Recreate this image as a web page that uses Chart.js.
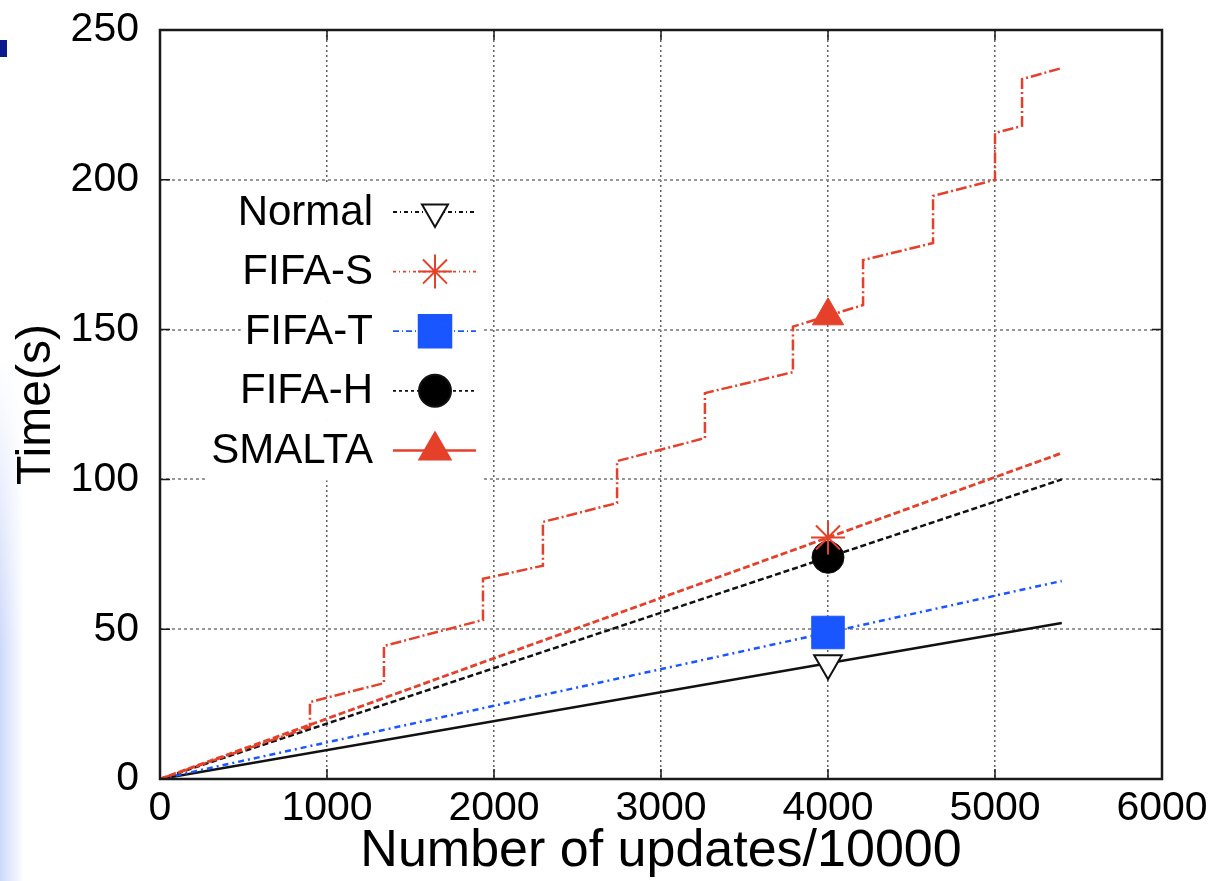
<!DOCTYPE html>
<html>
<head>
<meta charset="utf-8">
<script src="https://cdn.jsdelivr.net/npm/chart.js@4.4.1/dist/chart.umd.min.js"></script>
<style>
  html, body { margin: 0; padding: 0; background: #fff; }
  #wrap { position: relative; width: 1222px; height: 881px; overflow: hidden; }
  #chart { position: absolute; left: 0; top: 0; }
  .edge {
    position: absolute; left: 0; top: 360px; width: 24px; height: 521px;
    background: linear-gradient(to right, rgb(206, 217, 250), rgba(255, 255, 255, 0));
    -webkit-mask-image: linear-gradient(to bottom, transparent, #000 55%);
  }
  .mark { position: absolute; left: 0; top: 40px; width: 7px; height: 17px; background: #0b1b8f; }
</style>
</head>
<body>
<div id="wrap">
  <div class="edge"></div>
  <div class="mark"></div>
  <canvas id="chart" width="1222" height="881"></canvas>
</div>
<script>
// values
const seriesNames = ['Normal', 'FIFA-S', 'FIFA-T', 'FIFA-H', 'SMALTA'];

const lineX = [0, 4000, 5400];
const normalY = [0, 38.6, 52.1];
const fifaSY = [0, 80.6, 108.8];
const fifaTY = [0, 48.9, 66.1];
const fifaHY = [0, 74.0, 100.0];

// SMALTA is a staircase: repeated x means a vertical jump
const smaltaX = [0, 898, 898, 1341, 1341, 1934, 1934, 2293, 2293, 2737, 2737,
    3263, 3263, 3790, 3790, 4000, 4210, 4210, 4629, 4629, 5000, 5000, 5162, 5162, 5400];
const smaltaY = [0, 17.4, 25.7, 32.0, 44.4, 53.1, 66.8, 71.2, 85.8, 92.1, 106.1,
    113.8, 128.8, 135.8, 151.0, 154.6, 158.2, 173.2, 178.9, 194.6, 200.0, 215.6, 218.0, 233.6, 237.3];

const markerX = 4000;
const xTicks = [0, 1000, 2000, 3000, 4000, 5000, 6000];
const yTicks = [0, 50, 100, 150, 200, 250];

const RED = '#e4402a';
const BLUE = '#1a56ff';
const FONT = "'Liberation Sans', Arial, Helvetica, sans-serif";

function pts(xs, ys) {
    return xs.map((x, i) => ({ x: x, y: ys[i] }));
}

function markerOnly(size) {
    return ctx => (ctx.raw && ctx.raw.x === markerX) ? size : 0;
}

// how each entry looks in the key (line dash + marker)
const keyStyle = [
    { color: '#111', dash: [4, 3, 1, 3], width: 1.8, point: 'triangle', rot: 180, r: 15, fill: '#fff' },
    { color: RED, dash: [3, 3, 1, 3], width: 1.8, point: 'star', rot: 0, r: 17, fill: RED },
    { color: BLUE, dash: [6, 3, 1, 3], width: 1.8, point: 'rect', rot: 0, r: 23, fill: BLUE },
    { color: '#111', dash: [3, 3], width: 1.8, point: 'circle', rot: 0, r: 16, fill: '#000' },
    { color: RED, dash: [], width: 2.5, point: 'triangle', rot: 0, r: 18, fill: RED }
];

const keyPlugin = {
    id: 'gnuKey',
    afterDatasetsDraw(chart) {
        const ctx = chart.ctx;
        const a = chart.chartArea;
        const textRight = a.left + 213;
        const lineL = a.left + 233, lineR = a.left + 316, mk = a.left + 275;
        ctx.save();
        ctx.font = '42px ' + FONT;
        ctx.textAlign = 'right';
        ctx.textBaseline = 'middle';
        seriesNames.forEach((name, i) => {
            const y = a.top + 182 + i * 59.6;
            const s = keyStyle[i];
            const w = ctx.measureText(name).width;
            ctx.fillStyle = '#fff';
            ctx.fillRect(textRight - w - 4, y - 30, lineR - textRight + w + 10, 60);
            ctx.fillStyle = '#000';
            ctx.fillText(name, textRight, y + 1);
            ctx.beginPath();
            ctx.setLineDash(s.dash);
            ctx.strokeStyle = s.color;
            ctx.lineWidth = s.width;
            ctx.moveTo(lineL, y);
            ctx.lineTo(lineR, y);
            ctx.stroke();
            ctx.setLineDash([]);
            ctx.fillStyle = s.fill;
            ctx.strokeStyle = s.color;
            ctx.lineWidth = 2;
            Chart.helpers.drawPoint(ctx, {
                pointStyle: s.point, rotation: s.rot, radius: s.r, borderWidth: 2
            }, mk, y);
        });
        ctx.restore();
    }
};

// gnuplot style frame with inward ticks on all sides
const framePlugin = {
    id: 'frame',
    afterDatasetsDraw(chart) {
        const ctx = chart.ctx;
        const a = chart.chartArea;
        const xs = chart.scales.x, ys = chart.scales.y;
        ctx.save();
        ctx.strokeStyle = '#1a1a1a';
        ctx.lineWidth = 1.5;
        ctx.beginPath();
        xTicks.forEach(v => {
            const p = xs.getPixelForValue(v);
            ctx.moveTo(p, a.bottom); ctx.lineTo(p, a.bottom - 10);
            ctx.moveTo(p, a.top); ctx.lineTo(p, a.top + 10);
        });
        yTicks.forEach(v => {
            const p = ys.getPixelForValue(v);
            ctx.moveTo(a.left, p); ctx.lineTo(a.left + 10, p);
            ctx.moveTo(a.right, p); ctx.lineTo(a.right - 10, p);
        });
        ctx.stroke();
        ctx.lineWidth = 2.5;
        ctx.strokeRect(a.left, a.top, a.right - a.left, a.bottom - a.top);
        ctx.restore();
    }
};

Chart.defaults.color = '#000';
Chart.defaults.font.family = FONT;

new Chart(document.getElementById('chart'), {
    type: 'line',
    data: {
        datasets: [
            {
                label: 'SMALTA',
                data: pts(smaltaX, smaltaY),
                borderColor: RED, backgroundColor: RED,
                borderWidth: 2.5, borderDash: [11, 3, 2, 3],
                pointStyle: 'triangle', pointRadius: markerOnly(18),
                pointBorderWidth: 1
            },
            {
                label: 'FIFA-S',
                data: pts(lineX, fifaSY),
                borderColor: RED, backgroundColor: RED,
                borderWidth: 2.8, borderDash: [7, 3],
                pointStyle: 'star', pointRadius: markerOnly(17),
                pointBorderWidth: 2
            },
            {
                label: 'FIFA-H',
                data: pts(lineX, fifaHY),
                borderColor: '#111', backgroundColor: '#000',
                borderWidth: 2.5, borderDash: [6, 3],
                pointStyle: 'circle', pointRadius: markerOnly(16),
                pointBorderWidth: 1
            },
            {
                label: 'FIFA-T',
                data: pts(lineX, fifaTY),
                borderColor: BLUE, backgroundColor: BLUE,
                borderWidth: 2.5, borderDash: [6, 4, 2, 4],
                pointStyle: 'rect', pointRadius: markerOnly(23),
                pointBorderWidth: 1
            },
            {
                label: 'Normal',
                data: pts(lineX, normalY),
                borderColor: '#111', backgroundColor: '#fff',
                borderWidth: 2.5,
                pointStyle: 'triangle', pointRotation: 180, pointRadius: markerOnly(16),
                pointBorderColor: '#111', pointBorderWidth: 2
            }
        ]
    },
    options: {
        responsive: false,
        animation: false,
        devicePixelRatio: 1,
        layout: { padding: { top: 30, right: 60, left: 0, bottom: 0 } },
        plugins: { legend: { display: false }, tooltip: { enabled: false } },
        elements: { line: { tension: 0 } },
        scales: {
            x: {
                type: 'linear', min: 0, max: 6000,
                afterFit: s => { s.height = 102; s.paddingLeft = 0; s.paddingRight = 0; },
                afterBuildTicks: s => { s.ticks = xTicks.map(v => ({ value: v })); },
                ticks: { font: { size: 41 }, padding: 5, maxRotation: 0, callback: v => String(v) },
                grid: { color: 'rgba(80,80,80,0.9)', lineWidth: 1.5, drawTicks: false },
                border: { display: false, dash: [2, 3] },
                title: { display: true, text: 'Number of updates/10000',
                         font: { size: 52, lineHeight: 1.1 }, padding: { top: 0, bottom: 1 } }
            },
            y: {
                type: 'linear', min: 0, max: 250,
                afterFit: s => { s.width = 160; s.paddingTop = 0; s.paddingBottom = 0; },
                afterBuildTicks: s => { s.ticks = yTicks.map(v => ({ value: v })); },
                ticks: { font: { size: 41 }, padding: 21, callback: v => String(v) },
                grid: { color: 'rgba(140,140,140,0.9)', lineWidth: 2, drawTicks: false },
                border: { display: false, dash: [3, 3] },
                title: { display: true, text: 'Time(s)',
                         font: { size: 48, lineHeight: 1.1 }, padding: { top: 10, bottom: 0 } }
            }
        }
    },
    plugins: [framePlugin, keyPlugin]
});
</script>
</body>
</html>
